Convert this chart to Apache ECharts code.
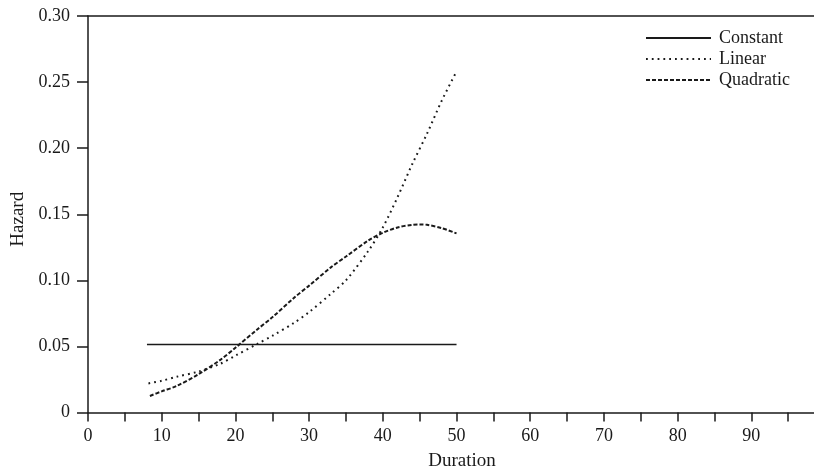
<!DOCTYPE html>
<html>
<head>
<meta charset="utf-8">
<script src="https://cdn.jsdelivr.net/npm/echarts@6/dist/echarts.min.js"></script>
<style>
html, body { margin:0; padding:0; background:#fff; }
#chart { width:814px; height:470px; }
</style>
</head>
<body>
<div id="chart"></div>
<script>
// durations and fitted hazards
var const_x = [8, 50]
var const_y = [0.0515, 0.0515]

var linear_x = [8.2, 10, 12, 15, 18, 20, 23, 25, 28, 30, 33, 35, 38, 40, 42, 44, 46, 48, 50]
var linear_y = [0.022, 0.024, 0.027, 0.031, 0.037, 0.043, 0.052, 0.058, 0.068, 0.076, 0.090, 0.100, 0.122, 0.140, 0.163, 0.188, 0.211, 0.236, 0.258]

var quad_x = [8.4, 10, 12, 15, 18, 20, 23, 25, 28, 30, 33, 35, 38, 40, 42, 44, 45, 46, 48, 50]
var quad_y = [0.0125, 0.016, 0.020, 0.029, 0.040, 0.049, 0.063, 0.072, 0.087, 0.096, 0.110, 0.118, 0.130, 0.136, 0.140, 0.142, 0.1423, 0.142, 0.1395, 0.1355]

// x ticks every 5, labelled every 10; the axis runs off the right edge
var x_ticks = {min:0, max:98.5, interval:5, label_every:10}
var y_ticks = {min:0, max:0.30, interval:0.05}

var pairs = function(xs, ys){
    var out = []
    for(var i=0;i<xs.length;i++) out.push([xs[i], ys[i]])
    return out
}

var ink = '#1a1a1a'
var font = 'Liberation Serif'

var chart = echarts.init(document.getElementById('chart'))

var opt = {
    backgroundColor: '#fff',
    animation: false,
    grid: {left:88, right:0, top:16, bottom:57.5, outerBoundsMode:'none'},
    legend: {
        orient: 'vertical',
        left: 645,
        top: 29,
        padding: 0,
        itemWidth: 65,
        itemHeight: 18,
        itemGap: 3,
        selectedMode: false,
        itemStyle: {color: 'rgba(0,0,0,0)', borderWidth: 0, opacity: 0},
        textStyle: {fontFamily: font, fontSize: 18, color: ink, padding:[0,0,0,3]},
        data: ['Constant', 'Linear', 'Quadratic']
    },
    xAxis: [
        {
            type: 'value',
            min: x_ticks.min,
            max: x_ticks.max,
            interval: x_ticks.interval,
            name: 'Duration',
            nameLocation: 'middle',
            nameGap: 39,
            nameTextStyle: {fontFamily: font, fontSize: 19, color: ink, padding:[0,0,0,22]},
            axisLine: {lineStyle: {color: ink, width: 1.5}},
            axisTick: {show: true, inside: false, length: 9, lineStyle: {color: ink, width: 1.5}},
            axisLabel: {fontFamily: font, fontSize: 18, color: ink, margin: 15,
                showMaxLabel: false,
                formatter: function(v){ return v % x_ticks.label_every === 0 ? String(v) : '' }},
            splitLine: {show: false}
        },
        {
            // top frame line
            type: 'value',
            position: 'top',
            min: x_ticks.min,
            max: x_ticks.max,
            axisLine: {lineStyle: {color: ink, width: 1.5}},
            axisTick: {show: false},
            axisLabel: {show: false},
            splitLine: {show: false}
        }
    ],
    yAxis: {
        type: 'value',
        min: y_ticks.min,
        max: y_ticks.max,
        interval: y_ticks.interval,
        name: 'Hazard',
        nameLocation: 'middle',
        nameGap: 57,
        nameTextStyle: {fontFamily: font, fontSize: 19, color: ink, padding:[0,10,0,0]},
        axisLine: {show: true, lineStyle: {color: ink, width: 1.5}},
        axisTick: {show: true, inside: false, length: 11, lineStyle: {color: ink, width: 1.5}},
        axisLabel: {fontFamily: font, fontSize: 18, color: ink, margin: 18,
            formatter: function(v){ return v === 0 ? '0' : v.toFixed(2) }},
        splitLine: {show: false}
    },
    series: [
        {
            name: 'Constant',
            type: 'line',
            symbol: 'none',
            data: pairs(const_x, const_y),
            lineStyle: {color: ink, width: 1.6, type: 'solid'}
        },
        {
            name: 'Linear',
            type: 'line',
            symbol: 'none',
            smooth: 0.3,
            data: pairs(linear_x, linear_y),
            lineStyle: {color: ink, width: 2, type: [1.8, 4]}
        },
        {
            name: 'Quadratic',
            type: 'line',
            symbol: 'none',
            smooth: 0.3,
            data: pairs(quad_x, quad_y),
            lineStyle: {color: ink, width: 2, type: [4, 2]}
        }
    ]
}

chart.setOption(opt)
</script>
</body>
</html>
